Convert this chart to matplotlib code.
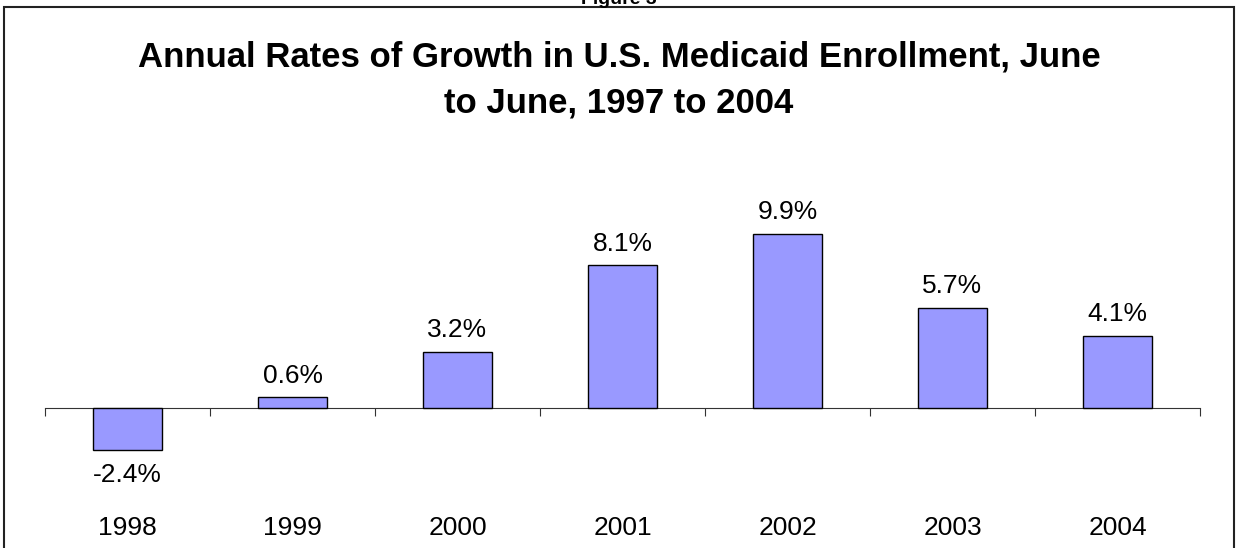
import matplotlib.pyplot as plt
from matplotlib.patches import Rectangle
from matplotlib.transforms import blended_transform_factory

plt.rcParams['font.family'] = ['Liberation Sans', 'DejaVu Sans']

years = ['1998', '1999', '2000', '2001', '2002', '2003', '2004']
growth = [-2.4, 0.6, 3.2, 8.1, 9.9, 5.7, 4.1]
labels = ['-2.4%', '0.6%', '3.2%', '8.1%', '9.9%', '5.7%', '4.1%']
title_lines = ['Annual Rates of Growth in U.S. Medicaid Enrollment, June',
               'to June, 1997 to 2004']

W, H = 1238, 548
fig = plt.figure(figsize=(W / 100, H / 100), dpi=100)

# plot area in pixels: x 45..1200, y 180..470 (zero line at y=408)
left, right, top, bottom = 45, 1200, 180, 470
ax = fig.add_axes([left / W, 1 - bottom / H, (right - left) / W, (bottom - top) / H])
ppu = 17.6
ax.set_ylim(-(bottom - 408) / ppu, (408 - top) / ppu)
ax.set_xlim(-0.5, len(years) - 0.5)

x = list(range(len(years)))
ax.bar(x, growth, width=0.42, color='#9999FF', edgecolor='black', linewidth=1.0, zorder=3)

for xi, v, lab in zip(x, growth, labels):
    if v >= 0:
        ax.annotate(lab, (xi, v), xytext=(0, 7), textcoords='offset points',
                    ha='center', va='bottom', fontsize=19)
    else:
        ax.annotate(lab, (xi, v), xytext=(0, -9), textcoords='offset points',
                    ha='center', va='top', fontsize=19)

trans = blended_transform_factory(ax.transData, fig.transFigure)
for xi, y in zip(x, years):
    fig.text(xi, 1 - 528 / H, y, transform=trans, ha='center', va='center', fontsize=19)

for s in ['top', 'right', 'left']:
    ax.spines[s].set_visible(False)
ax.spines['bottom'].set_position(('data', 0))
ax.spines['bottom'].set_color('#333333')
ax.spines['bottom'].set_linewidth(0.8)
ax.set_yticks([])
ax.set_xticks([i - 0.5 for i in range(len(years) + 1)])
ax.tick_params(axis='x', direction='out', length=6, width=0.8, color='#333333', labelbottom=False)
ax.patch.set_visible(False)

for ty, line in zip([57, 103], title_lines):
    fig.text(0.5, 1 - ty / H, line, ha='center', va='center', fontsize=25, fontweight='bold')
fig.text(0.5, 1 - 4 / H, 'Figure 3', ha='center', va='baseline', fontsize=14, fontweight='bold')

fig.patches.append(Rectangle((4 / W, -0.05), (1234 - 4) / W, 1.05 - 7 / H, transform=fig.transFigure,
                             fill=False, edgecolor='#222222', linewidth=1.5))

fig.savefig('out.png', dpi=100)
